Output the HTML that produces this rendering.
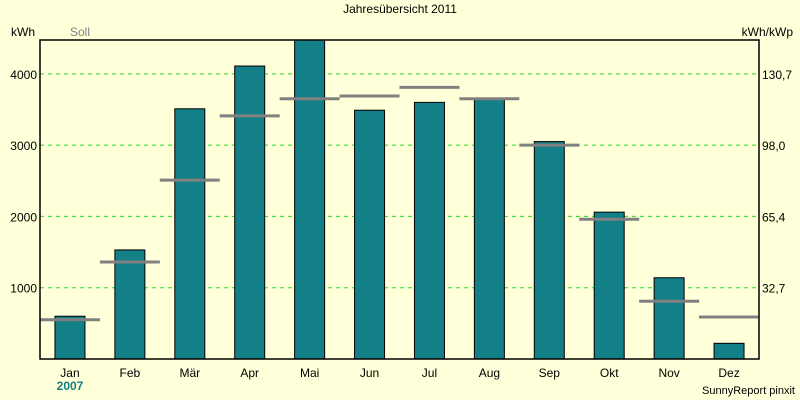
<!DOCTYPE html>
<html><head><meta charset="utf-8"><style>
body{margin:0;background:#ffffd9;}
svg{display:block;font-family:"Liberation Sans",sans-serif;}
</style></head><body>
<svg id="c" width="800" height="400">
<rect width="800" height="400" fill="#ffffd9"/>
<text x="400" y="13" text-anchor="middle" font-size="12">Jahresübersicht 2011</text>
<text x="35" y="36" text-anchor="end" font-size="12">kWh</text>
<text x="70" y="36" font-size="12" fill="#808080">Soll</text>
<text x="793" y="36" text-anchor="end" font-size="12">kWh/kWp</text>
<g id="grid"></g><g id="bars"></g><g id="soll"></g>
<rect x="40" y="40" width="719" height="319" fill="none" stroke="#000" stroke-width="1.5"/>
<g id="labels"></g>
<text x="70" y="390" text-anchor="middle" font-size="12" font-weight="bold" fill="#137f86">2007</text>
<text x="795" y="394" text-anchor="end" font-size="11">SunnyReport pinxit</text>
</svg>
<script>
const months=["Jan","Feb","Mär","Apr","Mai","Jun","Jul","Aug","Sep","Okt","Nov","Dez"];
const actual=[600,1530,3510,4110,4520,3490,3600,3650,3050,2060,1140,220];
const target=[550,1360,2510,3410,3650,3690,3810,3650,3000,1960,810,590];
const yTicks=[1000,2000,3000,4000];
const y2Labels=["32,7","65,4","98,0","130,7"];
const NS="http://www.w3.org/2000/svg";
const X0=40,X1=759,Y0=359,YT=40,YMAX=4475;
const y=v=>Math.max(YT,Y0-(v/YMAX)*(Y0-YT));
const band=(X1-X0)/months.length;
const xc=i=>X0+band*(i+0.5);
function mk(p,t,a){const e=document.createElementNS(NS,t);for(const k in a)e.setAttribute(k,a[k]);p.appendChild(e);return e;}
const g=document.getElementById('grid'),b=document.getElementById('bars'),s=document.getElementById('soll'),l=document.getElementById('labels');
yTicks.forEach((v,i)=>{
 const ln=mk(g,'line',{x1:X0,x2:X1,y1:y(v),y2:y(v),stroke:'#22dd22','stroke-dasharray':'4,4'});
 
 
 const t=mk(l,'text',{x:X0-3,y:y(v)+5,'text-anchor':'end','font-size':12});t.textContent=v;
 
 
 const t2=mk(l,'text',{x:X1+3,y:y(v)+5,'font-size':12});t2.textContent=y2Labels[i];
 
 
});
months.forEach((m,i)=>{
 const r=mk(b,'rect',{x:xc(i)-15,y:y(actual[i]),width:30,height:Y0-y(actual[i]),fill:'#137f86',stroke:'#000','stroke-width':1});
 
 
 const ln=mk(s,'line',{x1:xc(i)-30,x2:xc(i)+30,y1:y(target[i]),y2:y(target[i]),stroke:'#808080','stroke-width':3});
 
 
 const t=mk(l,'text',{x:xc(i),y:377,'text-anchor':'middle','font-size':12});t.textContent=m;
 
 
});
</script>
</body></html>
